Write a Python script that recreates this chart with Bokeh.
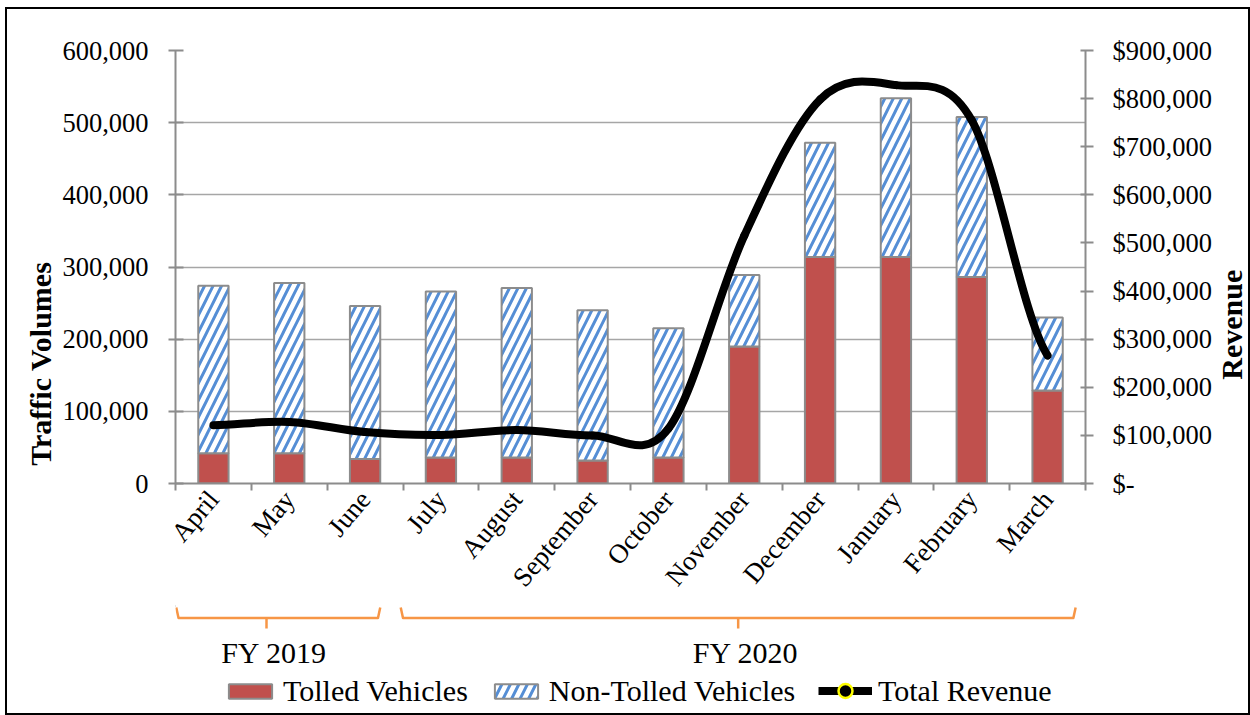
import numpy as np
from bokeh.plotting import figure
from bokeh.models import (Range1d, LinearAxis, FixedTicker, Legend, LegendItem,
                          ColumnDataSource)
from bokeh.layouts import column, row
from bokeh.transform import stack
from bokeh.embed import file_html
from bokeh.resources import INLINE
from bokeh.core.properties import value

# ---------------- data ----------------
months = ["April", "May", "June", "July", "August", "September", "October",
          "November", "December", "January", "February", "March"]
tolled = [42000, 42000, 34000, 36000, 36000, 32000, 36000,
          190000, 314000, 314000, 286000, 129000]
non_tolled = [232000, 236000, 212000, 230000, 235000, 208000, 179000,
              99000, 158000, 220000, 222000, 101000]
revenue = [121000, 128000, 107000, 101000, 111000, 100000, 114000,
           515000, 798000, 828000, 755000, 266000]

vol_ticks = [0, 100000, 200000, 300000, 400000, 500000, 600000]
vol_tick_labels = ["0", "100,000", "200,000", "300,000", "400,000", "500,000", "600,000"]
rev_ticks = [0, 100000, 200000, 300000, 400000, 500000, 600000, 700000, 800000, 900000]
rev_tick_labels = ["$-", "$100,000", "$200,000", "$300,000", "$400,000", "$500,000",
                   "$600,000", "$700,000", "$800,000", "$900,000"]

fy_labels = ["FY 2019", "FY 2020"]
fy_month_counts = [3, 9]

# ---------------- styles / layout ----------------
FONT = value("Liberation Serif")
RED = "#C0504D"
BLUE = "#558ED5"
EDGE = "#8C8C8C"
GRID = "#A6A6A6"
ORANGE = "#F79646"

W_TOTAL = 1241
W_LT = 50          # strip holding the left axis title
W_RT = 34          # strip holding the right axis title
W = W_TOTAL - W_LT - W_RT
H1 = 596
H2 = 108
LEFT = 168 - W_LT
TOP = 41
FRAME_W = 912
FRAME_H = 433
RIGHT = W - LEFT - FRAME_W
BOTTOM = H1 - TOP - FRAME_H
N = len(months)

x = list(range(N))
src = ColumnDataSource(dict(x=x, months=months, tolled=tolled, non_tolled=non_tolled))

p = figure(width=W, height=H1, x_range=Range1d(-0.5, N - 0.5),
           y_range=Range1d(vol_ticks[0], vol_ticks[-1]),
           min_border_left=LEFT, min_border_right=RIGHT, min_border_top=TOP,
           min_border_bottom=BOTTOM, toolbar_location=None, output_backend="svg")
p.extra_y_ranges = {"rev": Range1d(rev_ticks[0], rev_ticks[-1])}
p.outline_line_color = None

# grid
p.xgrid.visible = False
p.ygrid.ticker = FixedTicker(ticks=vol_ticks)
p.ygrid.grid_line_color = GRID
p.ygrid.grid_line_width = 1.6

# bars
BAR_W = 0.4
HATCH = dict(hatch_pattern="/", hatch_color=BLUE, hatch_weight=3, hatch_scale=17)
p.vbar(x="x", bottom=0, top="tolled", width=BAR_W, source=src,
       fill_color=RED, line_color=EDGE, line_width=2)
p.vbar(x="x", bottom=stack("tolled"), top=stack("tolled", "non_tolled"), width=BAR_W,
       source=src, fill_color="white", line_color=EDGE, line_width=2, **HATCH)

# smoothed revenue line (Catmull-Rom -> cubic Bezier segments)
r = np.array(revenue, dtype=float)
xi = np.array(x, dtype=float)
m = np.zeros_like(r)
m[1:-1] = (r[2:] - r[:-2]) / 2.0
m[0] = (r[1] - r[0]) / 2.0
m[-1] = (r[-1] - r[-2]) / 2.0
bez = ColumnDataSource(dict(
    x0=xi[:-1], y0=r[:-1], x1=xi[1:], y1=r[1:],
    cx0=xi[:-1] + 1 / 3, cy0=r[:-1] + m[:-1] / 3,
    cx1=xi[1:] - 1 / 3, cy1=r[1:] - m[1:] / 3))
p.bezier(x0="x0", y0="y0", x1="x1", y1="y1", cx0="cx0", cy0="cy0", cx1="cx1", cy1="cy1",
         source=bez, line_color="black", line_width=8, line_cap="round",
         y_range_name="rev")

# left axis
ya = p.yaxis[0]
ya.ticker = FixedTicker(ticks=vol_ticks)
ya.major_label_overrides = {t: l for t, l in zip(vol_ticks, vol_tick_labels)}
ya.major_label_text_font = "Liberation Serif"
ya.major_label_text_font_size = "26.5px"
ya.major_label_text_color = "black"
ya.major_label_standoff = 20
ya.major_tick_out = 7
ya.major_tick_in = 8
ya.minor_tick_line_color = None
ya.axis_line_color = EDGE
ya.axis_line_width = 2
ya.major_tick_line_color = EDGE
ya.major_tick_line_width = 2

# right axis
ra = LinearAxis(y_range_name="rev", ticker=FixedTicker(ticks=rev_ticks),
                major_label_overrides={t: l for t, l in zip(rev_ticks, rev_tick_labels)})
ra.major_label_text_font = "Liberation Serif"
ra.major_label_text_font_size = "26.5px"
ra.major_label_text_color = "black"
ra.major_label_standoff = 19
ra.major_tick_out = 8
ra.major_tick_in = 5
ra.minor_tick_line_color = None
ra.axis_line_color = EDGE
ra.axis_line_width = 2
ra.major_tick_line_color = EDGE
ra.major_tick_line_width = 2
p.add_layout(ra, "right")

# bottom axis
xa = p.xaxis[0]
xa.ticker = FixedTicker(ticks=x, minor_ticks=[i - 0.5 for i in range(N + 1)])
xa.major_label_overrides = {i: mname for i, mname in zip(x, months)}
xa.major_label_orientation = 0.87
xa.major_label_text_font = "Liberation Serif"
xa.major_label_text_font_size = "27px"
xa.major_label_text_color = "black"
xa.major_label_standoff = 4
xa.major_tick_line_color = None
xa.major_tick_out = 0
xa.major_tick_in = 0
xa.minor_tick_line_color = EDGE
xa.minor_tick_line_width = 2
xa.minor_tick_out = 7
xa.minor_tick_in = 0
xa.axis_line_color = EDGE
xa.axis_line_width = 2


def title_strip(width, y_range, text, x_pos, y_pos, size):
    f = figure(width=width, height=H1, x_range=Range1d(0, 1), y_range=y_range,
               min_border_left=0, min_border_right=0, min_border_top=TOP,
               min_border_bottom=BOTTOM, toolbar_location=None, output_backend="svg",
               x_axis_location=None, y_axis_location=None)
    f.grid.visible = False
    f.outline_line_color = None
    f.text(x=[x_pos], y=[y_pos], text=[text], angle=np.pi / 2, text_font=FONT,
           text_font_style="bold", text_font_size=size, text_align="center",
           text_baseline="middle", text_color="black")
    return f


p_lt = title_strip(W_LT, Range1d(vol_ticks[0], vol_ticks[-1]), "Traffic Volumes",
                   0.66, 166000, "30px")
p_rt = title_strip(W_RT, Range1d(rev_ticks[0], rev_ticks[-1]), "Revenue",
                   0.5, 330000, "30px")

# ---------------- fiscal-year brackets + legend ----------------
p2 = figure(width=W, height=H2, x_range=p.x_range, y_range=Range1d(H2, 0),
            min_border_left=LEFT, min_border_right=RIGHT, min_border_top=0,
            min_border_bottom=0, toolbar_location=None, output_backend="svg",
            x_axis_location=None, y_axis_location=None)
p2.grid.visible = False
p2.outline_line_color = None

bracket_pad = [(-0.3, -0.3), (-0.03, -0.13)]   # layout offsets (category units)
starts = np.cumsum([0] + fy_month_counts[:-1]) - 0.5
ends = starts + np.array(fy_month_counts)
bx, by, cx_, cy_, tx = [], [], [], [], []
for s, e, (pl, pr) in zip(starts, ends, bracket_pad):
    l, rr = s + pl, e + pr
    c = (l + rr) / 2
    l = max(l, -0.49)            # keep the end tick inside the drawing area
    bx.append([l, l + 0.03, rr - 0.03, rr]); by.append([2, 12.5, 12.5, 2])
    cx_.append([c, c]); cy_.append([12.5, 23])
    tx.append(c + 0.1)
p2.multi_line(xs=bx, ys=by, line_color=ORANGE, line_width=2.5, line_join="round")
p2.multi_line(xs=cx_, ys=cy_, line_color=ORANGE, line_width=2.5)
p2.text(x=tx, y=[47] * len(tx), text=fy_labels, text_font=FONT, text_font_size="30px",
        text_align="center", text_baseline="middle", text_color="black")

# legend proxies (same styling as the chart glyphs), kept outside the visible range
OFF = [-100]
g1 = p2.vbar(x=OFF, top=[0], width=BAR_W, fill_color=RED, line_color=EDGE, line_width=2)
g2 = p2.vbar(x=OFF, top=[0], width=BAR_W, fill_color="white", line_color=EDGE,
             line_width=2, **HATCH)
g3 = p2.line(x=OFF, y=[0], line_color="black", line_width=8)
g4 = p2.scatter(x=OFF, y=[0], marker="circle", size=14, fill_color="black",
                line_color="yellow", line_width=2.5)
LEG = dict(orientation="horizontal", padding=0, margin=0, spacing=21, label_standoff=6,
           glyph_width=54, label_height=30, label_text_font="Liberation Serif",
           label_text_font_size="30px", label_text_color="black",
           border_line_color=None, background_fill_alpha=0)
legend_bars = Legend(items=[LegendItem(label="Tolled Vehicles", renderers=[g1]),
                            LegendItem(label="Non-Tolled Vehicles", renderers=[g2])],
                     location=(48, 5), glyph_height=18, **LEG)
legend_line = Legend(items=[LegendItem(label="Total Revenue", renderers=[g3, g4])],
                     location=(643, 5), glyph_height=35, **LEG)
p2.add_layout(legend_bars, "center")
p2.add_layout(legend_line, "center")

layout = row(p_lt, column(p, p2, spacing=0), p_rt, spacing=0,
             styles={"border": "2px solid black", "margin": "7px 0 0 5px"})

open("out.html", "w").write(file_html(layout, INLINE))
